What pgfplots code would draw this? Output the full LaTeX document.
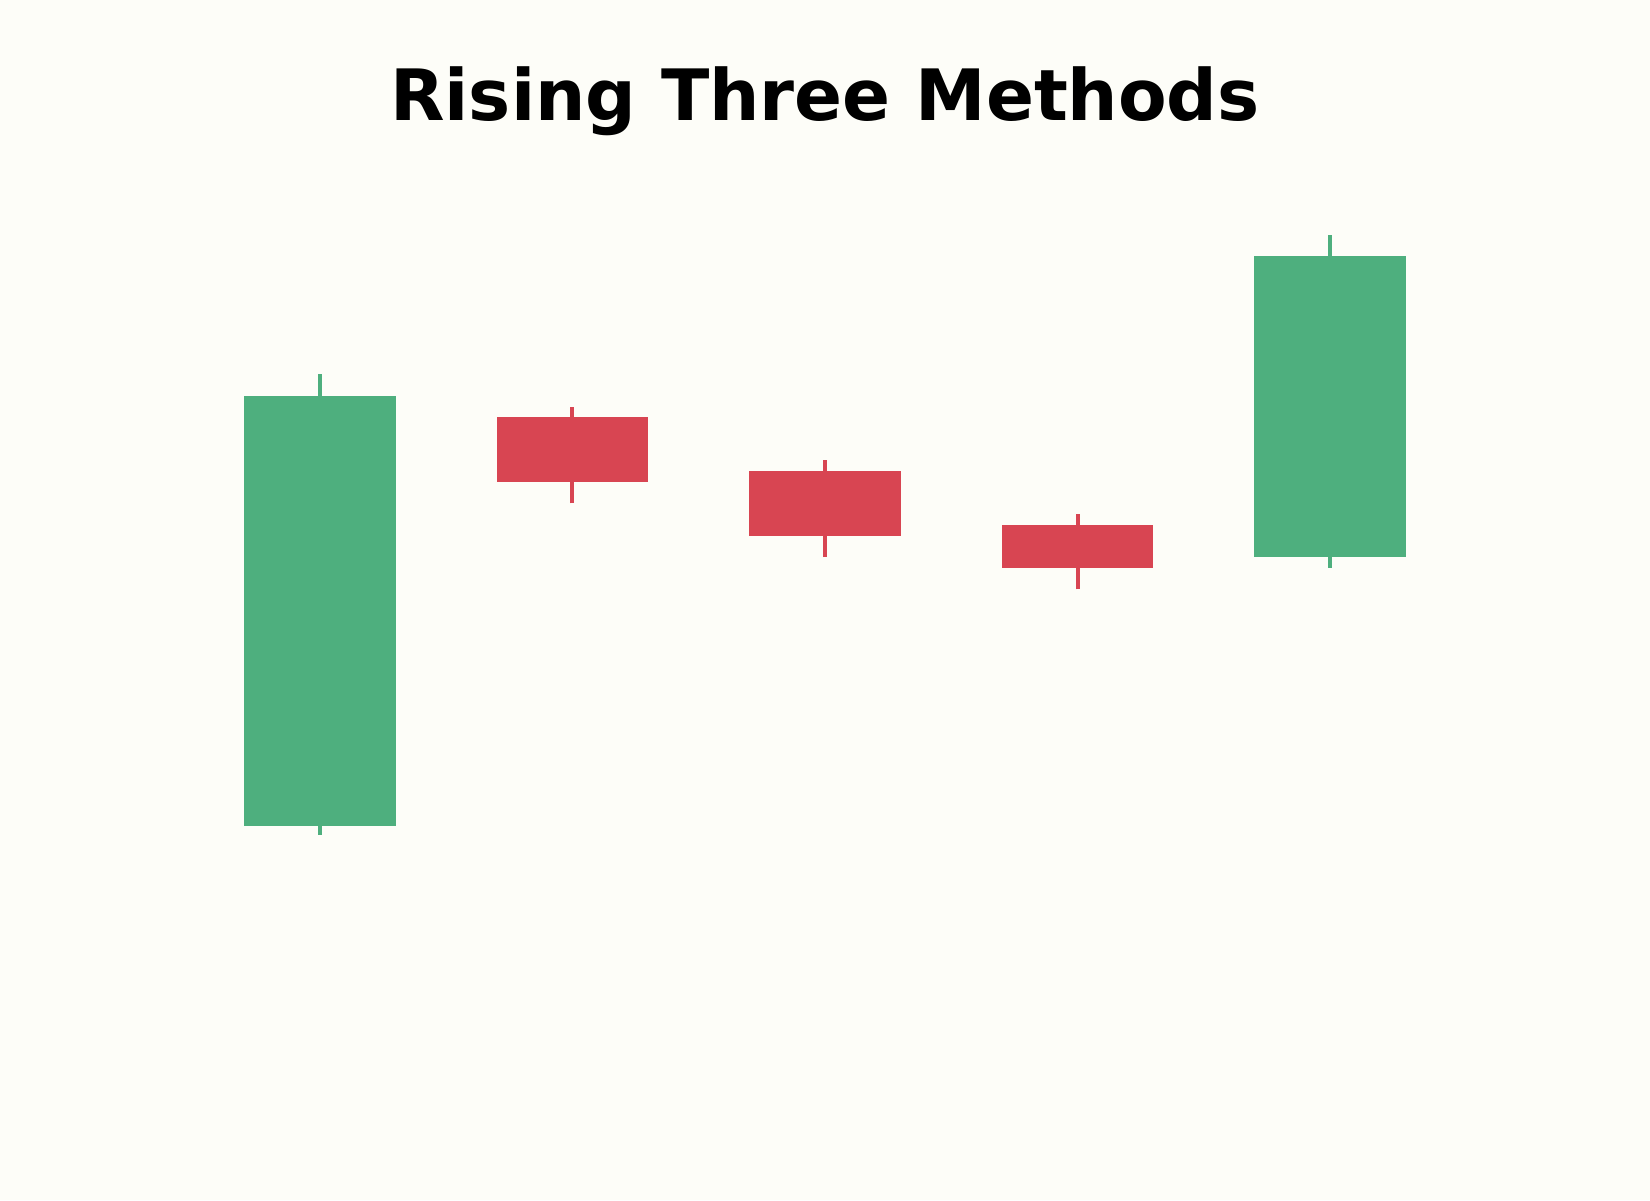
\documentclass[border=0pt]{standalone}
\usepackage{pgfplots}
\pgfplotsset{compat=1.18}
\usepackage{fontspec}
\setmainfont{DejaVu Sans}

\definecolor{bgcol}{RGB}{253,253,248}
\definecolor{upcol}{RGB}{78,175,126}
\definecolor{downcol}{RGB}{216,69,82}

% candle: x, open, high, low, close
% 0: 100.00 110.50  99.80 110.00  (up)
% 1: 109.50 109.75 107.50 108.00  (down)
% 2: 108.25 108.50 106.25 106.75  (down)
% 3: 107.00 107.25 105.50 106.00  (down)
% 4: 106.25 113.75 106.00 113.25  (up)

\begin{document}
\begin{tikzpicture}
\fill[bgcol] (0,0) rectangle (594pt,432pt);
\begin{axis}[
    at={(0,0)}, anchor=south west,
    scale only axis,
    width=594pt, height=432pt,
    hide axis,
    xmin=-1.267, xmax=5.267,
    ymin=91.30, ymax=119.21,
    clip=false,
]
% wicks
\addplot[upcol, line width=1.44pt] coordinates {(0,99.8) (0,110.5)};
\addplot[downcol, line width=1.44pt] coordinates {(1,107.5) (1,109.75)};
\addplot[downcol, line width=1.44pt] coordinates {(2,106.25) (2,108.5)};
\addplot[downcol, line width=1.44pt] coordinates {(3,105.5) (3,107.25)};
\addplot[upcol, line width=1.44pt] coordinates {(4,106.0) (4,113.75)};
% bodies
\addplot[fill=upcol, draw=none] coordinates {(-0.3,100) (0.3,100) (0.3,110) (-0.3,110)};
\addplot[fill=downcol, draw=none] coordinates {(0.7,108) (1.3,108) (1.3,109.5) (0.7,109.5)};
\addplot[fill=downcol, draw=none] coordinates {(1.7,106.75) (2.3,106.75) (2.3,108.25) (1.7,108.25)};
\addplot[fill=downcol, draw=none] coordinates {(2.7,106) (3.3,106) (3.3,107) (2.7,107)};
\addplot[fill=upcol, draw=none] coordinates {(3.7,106.25) (4.3,106.25) (4.3,113.25) (3.7,113.25)};
\node[anchor=base, font=\fontsize{25.5}{30}\selectfont\bfseries] at (rel axis cs:0.5,1) [yshift=-43.5pt] {Rising Three Methods};
\end{axis}
\end{tikzpicture}
\end{document}
